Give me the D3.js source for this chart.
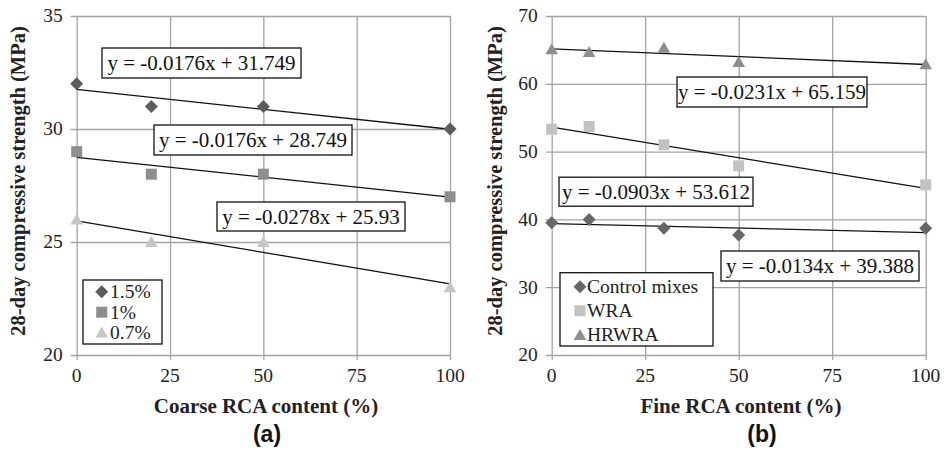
<!DOCTYPE html>
<html><head><meta charset="utf-8">
<script src="https://cdn.jsdelivr.net/npm/d3@7"></script>
<style>
body{margin:0;background:#fff}
text.serif{font-family:"Liberation Serif","Tinos","Times New Roman","DejaVu Serif",serif}
text.sans{font-family:"Liberation Sans",Arimo,Arial,sans-serif}
</style>
</head><body><svg id="c" width="944" height="455"></svg>
<script>
// ---------- DATA ----------
const xTicks = [0, 25, 50, 75, 100];

// Panel (a)
const aX = [0, 20, 50, 100];
const aNames = ["1.5%", "1%", "0.7%"];
const a15 = [32, 31, 31, 30];
const a10 = [29, 28, 28, 27];
const a07 = [26, 25, 25, 23];
const aSlopes = [-0.0176, -0.0176, -0.0278];
const aIntercepts = [31.749, 28.749, 25.93];
const aEq = ["y = -0.0176x + 31.749", "y = -0.0176x + 28.749", "y = -0.0278x + 25.93"];
const aYTicks = [20, 25, 30, 35];
const aXLabel = "Coarse RCA content (%)";

// Panel (b)
const bX = [0, 10, 30, 50, 100];
const bNames = ["Control mixes", "WRA", "HRWRA"];
const bControl = [39.5, 40.0, 38.7, 37.7, 38.7];
const bWRA = [53.3, 53.7, 51.0, 47.9, 45.1];
const bHRWRA = [65.1, 64.7, 65.3, 63.2, 62.9];
const bSlopes = [-0.0134, -0.0903, -0.0231];
const bIntercepts = [39.388, 53.612, 65.159];
const bEq = ["y = -0.0134x + 39.388", "y = -0.0903x + 53.612", "y = -0.0231x + 65.159"];
const bYTicks = [20, 30, 40, 50, 60, 70];
const bXLabel = "Fine RCA content (%)";

const yLabel = "28-day compressive strength (MPa)";

// ---------- LAYOUT ----------
const svg = d3.select("#c");
const GRID = "#a3a3a3";

function markerPath(shape) {
  if (shape === "diamond") return "M0,-6.5L6.5,0L0,6.5L-6.5,0Z";
  if (shape === "square") return "M-5.5,-5.5H5.5V5.5H-5.5Z";
  return "M0,-6L6.3,5L-6.3,5Z";
}

const panels = [
  {
    x0: 76.7, x1: 450, y0: 355, y1: 16, ydom: [20, 35], yTicks: aYTicks,
    xs: aX, series: [a15, a10, a07], names: aNames, slopes: aSlopes, ints: aIntercepts, eqs: aEq,
    shapes: ["diamond", "square", "triangle"], colors: ["#5c5c5c", "#8e8e8e", "#c6c6c6"],
    boxes: [[201.5, 63, 199, 30], [253, 140, 198, 30], [311, 216.5, 188, 29]],
    legend: { x: 83, y: 280, w: 79, h: 64, rows: [291.7, 312.2, 332.5], mx: 101.7, tx: 110 },
    xLabel: aXLabel, xLabelX: 266, yTitleX: 25, tag: "(a)", tagX: 267
  },
  {
    x0: 551.7, x1: 925.7, y0: 355, y1: 16, ydom: [20, 70], yTicks: bYTicks,
    xs: bX, series: [bControl, bWRA, bHRWRA], names: bNames, slopes: bSlopes, ints: bIntercepts, eqs: bEq,
    shapes: ["diamond", "square", "triangle"], colors: ["#676767", "#c2c2c2", "#8e8e8e"],
    boxes: [[820, 266, 198, 30], [656, 191.7, 194, 29], [772, 92, 190, 30]],
    legend: { x: 560, y: 272.7, w: 153, h: 73.3, rows: [286.7, 310.7, 335], mx: 580, tx: 587 },
    xLabel: bXLabel, xLabelX: 741, yTitleX: 502, tag: "(b)", tagX: 762
  }
];

panels.forEach(p => {
  const x = d3.scaleLinear().domain([0, 100]).range([p.x0, p.x1]);
  const y = d3.scaleLinear().domain(p.ydom).range([p.y0, p.y1]);
  const g = svg.append("g");

  // gridlines + ticks
  g.append("g").attr("transform", `translate(${p.x0},0)`)
    .call(d3.axisLeft(y).tickValues(p.yTicks).tickSize(-(p.x1 - p.x0)).tickSizeOuter(0).tickFormat(""))
    .call(s => s.select(".domain").remove())
    .call(s => s.selectAll("line").attr("stroke", GRID).attr("stroke-width", 1.3).attr("x1", -6));
  g.append("g").attr("transform", `translate(0,${p.y0})`)
    .call(d3.axisBottom(x).tickValues(xTicks).tickSize(-(p.y0 - p.y1)).tickSizeOuter(0).tickFormat(""))
    .call(s => s.select(".domain").remove())
    .call(s => s.selectAll("line").attr("stroke", GRID).attr("stroke-width", 1.3).attr("y1", 5));

  // tick labels
  g.selectAll(".yl").data(p.yTicks).enter().append("text").attr("class", "serif")
    .attr("x", p.x0 - 14).attr("y", d => y(d)).attr("dy", "0.33em")
    .attr("text-anchor", "end").attr("font-size", 19.5).attr("fill", "#222")
    .text(d => d);
  g.selectAll(".xl").data(xTicks).enter().append("text").attr("class", "serif")
    .attr("x", d => x(d)).attr("y", 381.5)
    .attr("text-anchor", "middle").attr("font-size", 19.5).attr("fill", "#222")
    .text(d => d);

  // trend lines
  p.slopes.forEach((m, i) => {
    g.append("line")
      .attr("x1", x(0)).attr("y1", y(p.ints[i]))
      .attr("x2", x(100)).attr("y2", y(p.ints[i] + m * 100))
      .attr("stroke", "#111").attr("stroke-width", 1.3);
  });

  // markers
  p.series.forEach((vals, i) => {
    g.selectAll(null).data(vals).enter().append("path")
      .attr("d", markerPath(p.shapes[i]))
      .attr("transform", (d, j) => `translate(${x(p.xs[j])},${y(d)})`)
      .attr("fill", p.colors[i]);
  });

  // equation boxes
  p.eqs.forEach((t, i) => {
    const [cx, cy, w, h] = p.boxes[i];
    g.append("rect").attr("x", cx - w / 2).attr("y", cy - h / 2).attr("width", w).attr("height", h)
      .attr("fill", "#fff").attr("stroke", "#111").attr("stroke-width", 1.3);
    g.append("text").attr("class", "serif").attr("x", cx).attr("y", cy).attr("dy", "0.35em")
      .attr("text-anchor", "middle").attr("font-size", 21).attr("fill", "#111")
      .text(t);
  });

  // legend
  const L = p.legend;
  g.append("rect").attr("x", L.x).attr("y", L.y).attr("width", L.w).attr("height", L.h)
    .attr("fill", "#fff").attr("stroke", "#111").attr("stroke-width", 1.3);
  p.names.forEach((n, i) => {
    g.append("path").attr("d", markerPath(p.shapes[i]))
      .attr("transform", `translate(${L.mx},${L.rows[i]})`).attr("fill", p.colors[i]);
    g.append("text").attr("class", "serif").attr("x", L.tx).attr("y", L.rows[i]).attr("dy", "0.33em")
      .attr("font-size", 19.5).attr("fill", "#222").text(n);
  });

  // axis titles
  g.append("text").attr("class", "serif").attr("x", p.xLabelX).attr("y", 413).attr("text-anchor", "middle")
    .attr("font-weight", "bold").attr("font-size", 21).attr("fill", "#222")
    .text(p.xLabel);
  g.append("text").attr("class", "serif").attr("transform", `translate(${p.yTitleX},181) rotate(-90)`).attr("text-anchor", "middle")
    .attr("font-weight", "bold").attr("font-size", 20.5).attr("fill", "#222")
    .text(yLabel);
  g.append("text").attr("class", "sans").attr("x", p.tagX).attr("y", 442).attr("text-anchor", "middle")
    .attr("font-weight", "bold").attr("font-size", 23).attr("fill", "#111")
    .text(p.tag);
});
</script>
</body></html>
